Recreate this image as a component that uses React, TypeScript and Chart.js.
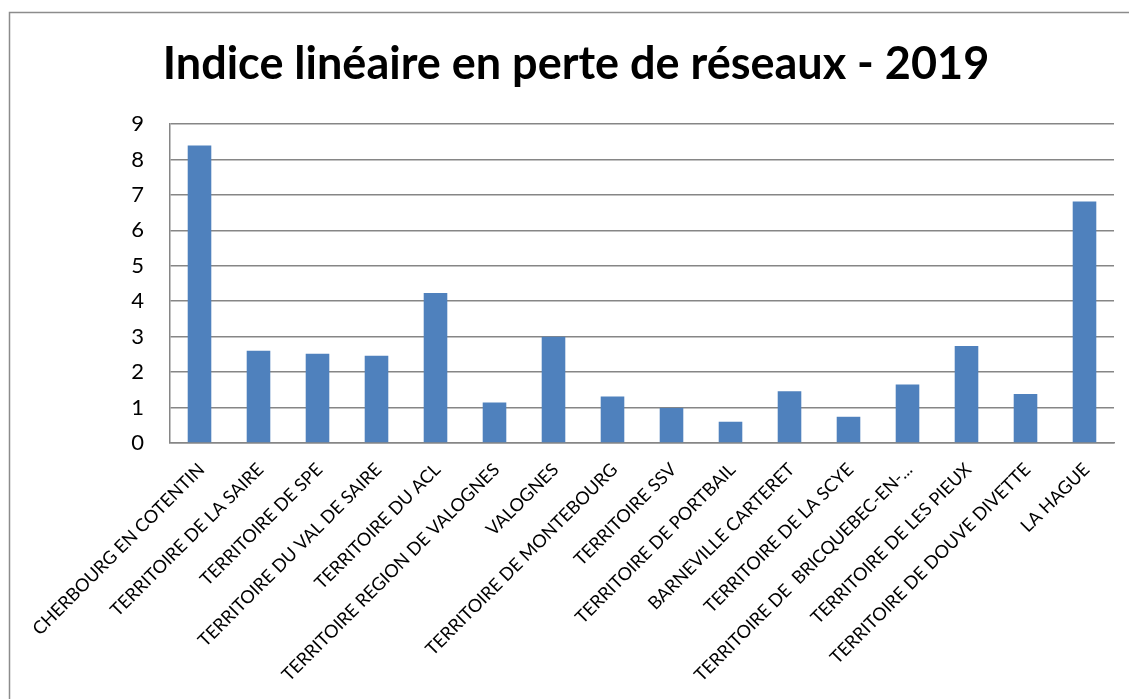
import React, { useEffect, useRef } from "react";
import { Chart, registerables } from "chart.js";

Chart.register(...registerables);

const TITLE = "Indice linéaire en perte de réseaux - 2019";

const categories = [
  "CHERBOURG EN COTENTIN",
  "TERRITOIRE DE LA SAIRE",
  "TERRITOIRE DE SPE",
  "TERRITOIRE DU VAL DE SAIRE",
  "TERRITOIRE DU ACL",
  "TERRITOIRE REGION DE VALOGNES",
  "VALOGNES",
  "TERRITOIRE DE MONTEBOURG",
  "TERRITOIRE SSV",
  "TERRITOIRE DE PORTBAIL",
  "BARNEVILLE CARTERET",
  "TERRITOIRE DE LA SCYE",
  "TERRITOIRE DE  BRICQUEBEC-EN-...",
  "TERRITOIRE DE LES PIEUX",
  "TERRITOIRE DE DOUVE DIVETTE",
  "LA HAGUE",
];

const values = [8.39, 2.6, 2.52, 2.46, 4.23, 1.14, 3.0, 1.31, 0.99, 0.6, 1.46, 0.74, 1.65, 2.74, 1.38, 6.81];

const yMin = 0;
const yMax = 9;
const yStep = 1;

const FONT = "Lato, 'Open Sans', sans-serif";

const framePlugin = {
  id: "frameAndTitle",
  beforeDraw(chart: any) {
    const ctx = chart.ctx;
    ctx.save();
    ctx.fillStyle = "#ffffff";
    ctx.fillRect(0, 0, chart.width, chart.height);
    ctx.strokeStyle = "#8c8c8c";
    ctx.lineWidth = 1.5;
    ctx.beginPath();
    ctx.moveTo(9.5, chart.height + 10);
    ctx.lineTo(9.5, 12.5);
    ctx.lineTo(chart.width + 10, 12.5);
    ctx.stroke();
    ctx.restore();
  },
  afterDraw(chart: any) {
    const ctx = chart.ctx;
    ctx.save();
    ctx.fillStyle = "#000000";
    ctx.font = `bold 45px ${FONT}`;
    ctx.textAlign = "center";
    ctx.textBaseline = "alphabetic";
    ctx.fillText(TITLE, 576, 79);
    ctx.restore();
  },
};

export default function App() {
  const canvasRef = useRef<HTMLCanvasElement | null>(null);

  useEffect(() => {
    if (!canvasRef.current) return;
    const chart = new Chart(canvasRef.current, {
      type: "bar",
      data: {
        labels: categories,
        datasets: [
          {
            data: values,
            backgroundColor: "#4F81BD",
            borderWidth: 0,
            barPercentage: 0.4,
            categoryPercentage: 1,
          },
        ],
      },
      options: {
        animation: false,
        responsive: true,
        maintainAspectRatio: false,
        layout: { padding: { top: 124, right: 15, left: 0, bottom: 0 } },
        plugins: {
          legend: { display: false },
          title: { display: false },
          tooltip: { enabled: false },
        },
        scales: {
          x: {
            grid: { display: false, drawTicks: false },
            border: { color: "#868686", width: 1.5 },
            ticks: {
              autoSkip: false,
              minRotation: 45,
              maxRotation: 45,
              color: "#000",
              font: { family: FONT, size: 18 },
              padding: 16,
              labelOffset: 2,
            },
            afterFit: (s: any) => {
              s.height = 256;
            },
          },
          y: {
            min: yMin,
            max: yMax,
            ticks: {
              stepSize: yStep,
              color: "#000",
              font: { family: FONT, size: 22 },
              padding: 26,
            },
            grid: { color: "#868686", lineWidth: 1.5, drawTicks: false },
            border: { color: "#868686", width: 1.5 },
            afterFit: (s: any) => {
              s.width = 170;
            },
          },
        },
      },
      plugins: [framePlugin],
    });
    return () => chart.destroy();
  }, []);

  return (
    <div style={{ position: "absolute", left: 0, top: 0, width: 1129, height: 699 }}>
      <canvas ref={canvasRef} />
    </div>
  );
}
